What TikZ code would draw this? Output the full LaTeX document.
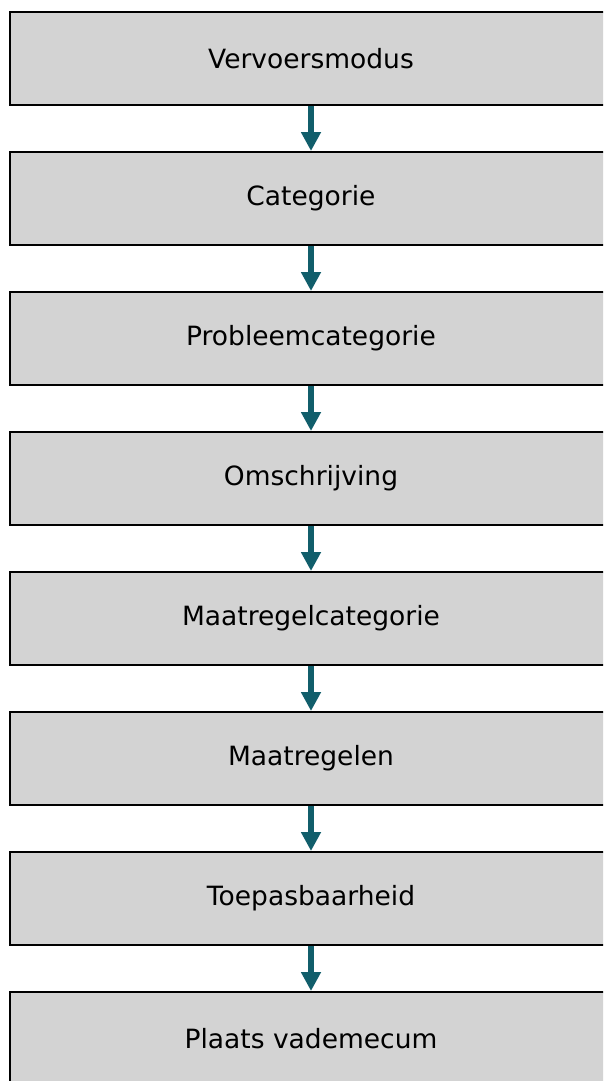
\documentclass[tikz,border=0pt]{standalone}
\usepackage{fontspec}
\setmainfont{DejaVu Sans}
\usetikzlibrary{arrows.meta}
\definecolor{boxfill}{RGB}{211,211,211}
\definecolor{arrowteal}{RGB}{17,94,107}
\begin{document}
\begin{tikzpicture}[x=1pt,y=-1pt,
  stepbox/.style={draw=black, line width=2pt, fill=boxfill, rectangle,
    minimum width=602pt, minimum height=93pt, inner sep=0pt,
    font=\fontsize{26.5}{31}\selectfont},
  flow/.style={draw=arrowteal, line width=5.5pt,
    -{Triangle[width=19pt,length=19pt]}, arrowteal}]
\useasboundingbox (0,0) rectangle (603,1081);
\clip (0,0) rectangle (603,1081);
\node[stepbox] (n1) at (311,58.5) {Vervoersmodus};
\node[stepbox] (n2) at (311,198.5) {Categorie};
\node[stepbox] (n3) at (311,338.5) {Probleemcategorie};
\node[stepbox] (n4) at (311,478.5) {Omschrijving};
\node[stepbox] (n5) at (311,618.5) {Maatregelcategorie};
\node[stepbox] (n6) at (311,758.5) {Maatregelen};
\node[stepbox] (n7) at (311,898.5) {Toepasbaarheid};
\node[stepbox] (n8) at (311,1038.5) {Plaats vademecum};
\foreach \a/\b in {n1/n2,n2/n3,n3/n4,n4/n5,n5/n6,n6/n7,n7/n8}
  \draw[flow] (\a.south) -- (\b.north);
\end{tikzpicture}
\end{document}
